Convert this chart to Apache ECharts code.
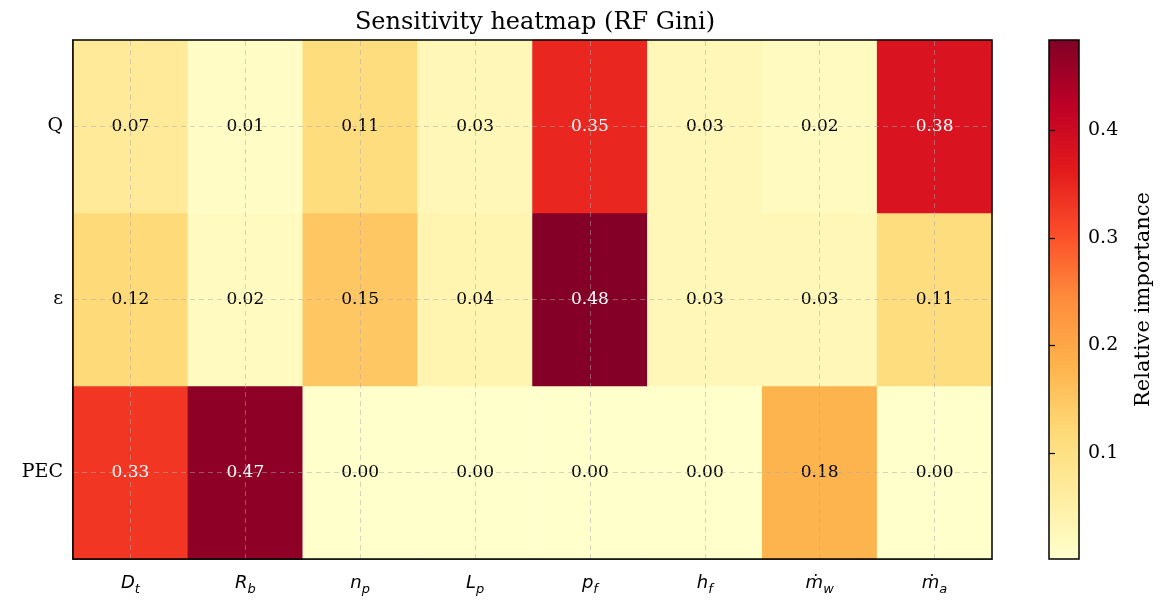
<!DOCTYPE html>
<html>
<head>
<meta charset="utf-8">
<title>Sensitivity heatmap (RF Gini)</title>
<script src="https://cdn.jsdelivr.net/npm/echarts@6/dist/echarts.min.js"></script>
<style>
html, body { margin: 0; padding: 0; background: #fff; }
#chart { width: 1173px; height: 606px; }
</style>
</head>
<body>
<div id="chart"></div>
<script>
// 参数 / 指标
var params = ['D_t', 'R_b', 'n_p', 'L_p', 'p_f', 'h_f', 'ṁ_w', 'ṁ_a'];
var metrics = ['PEC', 'ε', 'Q']; // bottom to top
var valQ   = [0.07, 0.01, 0.11, 0.03, 0.35, 0.03, 0.02, 0.38];
var valEps = [0.12, 0.02, 0.15, 0.04, 0.48, 0.03, 0.03, 0.11];
var valPEC = [0.33, 0.47, 0.00, 0.00, 0.00, 0.00, 0.18, 0.00];
var cbTicks = [0.1, 0.2, 0.3, 0.4];
var vMin = 0.0016, vMax = 0.484;

// YlOrRd
var cmap = ['#ffffcc', '#ffeda0', '#fed976', '#feb24c', '#fd8d3c', '#fc4e2a', '#e31a1c', '#bd0026', '#800026'];

var rows = [valPEC, valEps, valQ];
var data = [];
rows.forEach(function (r, yi) {
	r.forEach(function (v, xi) {
		data.push([xi, yi, v]);
	});
});

var gridLineStyle = { color: 'rgba(170,170,170,0.5)', type: [5, 4], width: 1 };
var markData = [];
params.forEach(function (p) { markData.push({ xAxis: p }); });
metrics.forEach(function (m) { markData.push({ yAxis: m }); });

var stops = cmap.map(function (c, i) {
	return { offset: i / (cmap.length - 1), color: c };
});

var serif = 'DejaVu Serif';
var chart = echarts.init(document.getElementById('chart'));
var option = {
	backgroundColor: '#fff',
	animation: false,
	title: {
		text: 'Sensitivity heatmap (RF Gini)',
		left: 530,
		top: 6,
		textAlign: 'center',
		textStyle: { fontFamily: serif, fontWeight: 'normal', fontSize: 24, color: '#000' }
	},
	grid: [{
		left: 73, top: 40, width: 919, height: 519
	}, {
		left: 1049, top: 40, width: 30, height: 519
	}],
	xAxis: [{
		type: 'category',
		data: params,
		gridIndex: 0,
		axisLine: { lineStyle: { color: '#000', width: 1.5 } },
		axisTick: { alignWithLabel: true, length: 6, lineStyle: { color: '#000', width: 1.2 } },
		splitLine: { show: false },
		axisLabel: {
			margin: 12,
			formatter: function (s) {
				var p = s.split('_');
				return '{m|' + p[0] + '}{s|' + p[1] + '}';
			},
			rich: {
				m: { fontFamily: 'DejaVu Sans', fontStyle: 'italic', fontSize: 18, color: '#000' },
				s: { fontFamily: 'DejaVu Sans', fontStyle: 'italic', fontSize: 13, color: '#000', padding: [12, 0, 0, 0] }
			}
		}
	}, {
		type: 'value', gridIndex: 1, show: false
	}],
	yAxis: [{
		type: 'category',
		data: metrics,
		gridIndex: 0,
		axisLine: { lineStyle: { color: '#000', width: 1.5 } },
		axisTick: { alignWithLabel: true, length: 6, lineStyle: { color: '#000', width: 1.2 } },
		splitLine: { show: false },
		axisLabel: { margin: 10, fontFamily: serif, fontSize: 19, color: '#000' }
	}, {
		type: 'value',
		gridIndex: 1,
		position: 'right',
		min: vMin,
		max: vMax,
		axisLine: { show: false },
		splitLine: { show: false },
		axisTick: { show: true, length: 6, customValues: cbTicks, lineStyle: { color: '#000', width: 1.2 } },
		axisLabel: { margin: 9, customValues: cbTicks, fontFamily: serif, fontSize: 19, color: '#000',
			formatter: function (v) { return v.toFixed(1); } },
		name: 'Relative importance',
		nameLocation: 'middle',
		nameRotate: 90,
		nameGap: 54,
		nameTextStyle: { fontFamily: serif, fontSize: 21, color: '#000' }
	}],
	visualMap: {
		show: false,
		min: vMin,
		max: vMax,
		dimension: 2,
		seriesIndex: 0,
		inRange: { color: cmap }
	},
	graphic: [{
		// 色条
		type: 'rect',
		shape: { x: 1049, y: 40, width: 30, height: 519 },
		style: {
			fill: { type: 'linear', x: 0, y: 1, x2: 0, y2: 0, colorStops: stops },
			stroke: '#000', lineWidth: 1.5
		},
		z: -1
	}, {
		// 外框
		type: 'rect',
		shape: { x: 73, y: 40, width: 919, height: 519 },
		style: { fill: 'none', stroke: '#000', lineWidth: 1.5 },
		silent: true,
		z: 100
	}],
	series: [{
		type: 'heatmap',
		xAxisIndex: 0,
		yAxisIndex: 0,
		data: data,
		label: {
			show: true,
			formatter: function (p) {
				var v = p.value[2];
				return (v > 0.3 ? '{w|' : '{b|') + v.toFixed(2) + '}';
			},
			rich: {
				w: { color: '#fff', fontFamily: serif, fontSize: 17 },
				b: { color: '#000', fontFamily: serif, fontSize: 17 }
			}
		},
		markLine: {
			silent: true,
			symbol: 'none',
			label: { show: false },
			lineStyle: gridLineStyle,
			data: markData
		}
	}]
};
chart.setOption(option);
</script>
</body>
</html>
